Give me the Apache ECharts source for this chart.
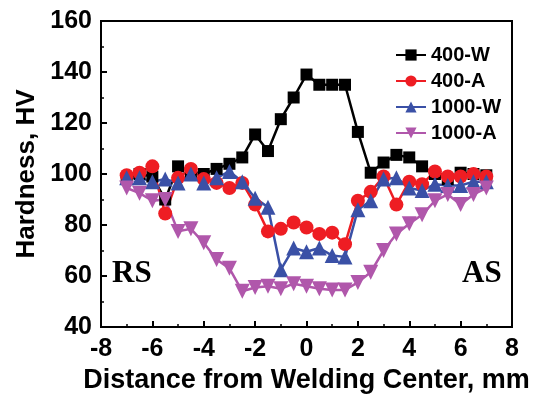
<!DOCTYPE html>
<html>
<head>
<meta charset="utf-8">
<script src="https://cdn.jsdelivr.net/npm/echarts@6/dist/echarts.min.js"></script>
<style>
html, body { margin: 0; padding: 0; background: #fff; }
#chart { width: 535px; height: 396px; }
</style>
</head>
<body>
<div id="chart"></div>
<script>
var positions = [-7, -6.5, -6, -5.5, -5, -4.5, -4, -3.5, -3, -2.5, -2, -1.5, -1, -0.5, 0,
                 0.5, 1, 1.5, 2, 2.5, 3, 3.5, 4, 4.5, 5, 5.5, 6, 6.5, 7];
var w400 = [98, 100, 99, 90, 103, 101, 100, 102, 104, 106.5, 115.5, 109, 121.5, 130, 139,
            135, 135, 135, 116.5, 100.5, 104.5, 107.5, 106.5, 103, 100, 98, 100.5, 100, 99.5];
var a400 = [99.5, 100.5, 103, 84.5, 98.5, 102, 98, 96.5, 94.5, 96.5, 88, 77.5, 78.5, 81, 79,
            76.5, 77, 72.5, 89.5, 93, 99, 88, 97, 96, 101, 99, 99, 100, 99];
var w1000 = [98.5, 98.5, 97, 98, 96.5, 100, 96.5, 98.5, 101, 97, 90.5, 87, 62.5, 71, 69.5,
             71, 68, 67.5, 86, 89.5, 98, 98.5, 94.5, 93.5, 96, 95.5, 95.5, 97, 97];
var a1000 = [94.5, 92.5, 89.5, 90, 77.5, 78.5, 73, 66.5, 63, 54, 55.5, 56, 55, 57, 56,
             55, 54.5, 54.5, 57.5, 61.5, 70, 76.5, 80.5, 84, 89.5, 92, 88, 92, 94.5];
var seriesNames = ['400-W', '400-A', '1000-W', '1000-A'];

function pairs(ys) {
  var out = [];
  for (var i = 0; i < positions.length; i++) out.push([positions[i], ys[i]]);
  return out;
}

function mk(name, ys, color, symbol, size, rotate) {
  return {
    name: name,
    type: 'line',
    data: pairs(ys),
    symbol: symbol,
    symbolSize: size,
    symbolRotate: rotate || 0,
    showSymbol: true,
    lineStyle: { color: color, width: 2.5 },
    itemStyle: { color: color, borderWidth: 0 },
    emphasis: { disabled: true },
    animation: false
  };
}

var font = 'Liberation Sans, Arial, sans-serif';
var chart = echarts.init(document.getElementById('chart'));
var option = {
  backgroundColor: '#fff',
  animation: false,
  grid: { left: 101, right: 23, top: 21, bottom: 69, show: true, borderColor: '#000', borderWidth: 2,
          outerBoundsMode: 'none', containLabel: false },
  legend: {
    orient: 'vertical',
    left: 390,
    top: 40,
    itemWidth: 30,
    itemHeight: 14,
    itemGap: 6,
    data: seriesNames,
    textStyle: { fontFamily: font, fontWeight: 'bold', fontSize: 20, color: '#000' }
  },
  xAxis: {
    type: 'value', min: -8, max: 8, interval: 2,
    name: 'Distance from Welding Center, mm',
    nameLocation: 'middle', nameGap: 38,
    nameTextStyle: { fontFamily: font, fontWeight: 'bold', fontSize: 27, color: '#000' },
    axisLine: { onZero: false, lineStyle: { color: '#000', width: 2 } },
    axisTick: { inside: true, length: 6, lineStyle: { color: '#000', width: 2 } },
    minorTick: { show: true, splitNumber: 2, length: 3, lineStyle: { color: '#000', width: 1.5 } },
    axisLabel: { fontFamily: font, fontWeight: 'bold', fontSize: 25, color: '#000', margin: 10 },
    splitLine: { show: false }
  },
  yAxis: {
    type: 'value', min: 40, max: 160, interval: 20,
    name: 'Hardness, HV',
    nameLocation: 'middle', nameGap: 60,
    nameTextStyle: { fontFamily: font, fontWeight: 'bold', fontSize: 26, color: '#000' },
    axisLine: { onZero: false, lineStyle: { color: '#000', width: 2 } },
    axisTick: { inside: true, length: 6, lineStyle: { color: '#000', width: 2 } },
    minorTick: { show: true, splitNumber: 2, length: 3, lineStyle: { color: '#000', width: 1.5 } },
    axisLabel: { fontFamily: font, fontWeight: 'bold', fontSize: 25, color: '#000', margin: 9 },
    splitLine: { show: false }
  },
  graphic: [
    { type: 'text', left: 112, top: 258, style: { text: 'RS', fontFamily: 'Liberation Serif, Times New Roman, serif', fontWeight: 'bold', fontSize: 31, fill: '#000' } },
    { type: 'text', left: 462, top: 258, style: { text: 'AS', fontFamily: 'Liberation Serif, Times New Roman, serif', fontWeight: 'bold', fontSize: 31, fill: '#000' } }
  ],
  series: [
    mk('400-W', w400, '#000000', 'rect', 12),
    mk('400-A', a400, '#ee1d23', 'circle', 14),
    mk('1000-W', w1000, '#3a50a6', 'triangle', 15),
    mk('1000-A', a1000, '#b057ab', 'triangle', 15, 180)
  ]
};
chart.setOption(option);
</script>
</body>
</html>
